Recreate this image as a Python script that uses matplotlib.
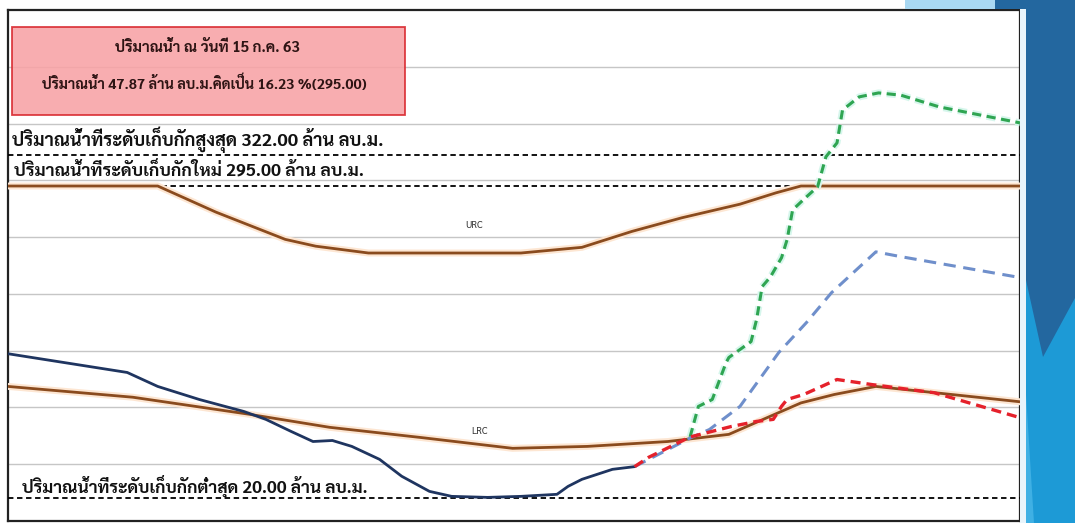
import matplotlib
matplotlib.use('Agg')
import matplotlib.pyplot as plt
import matplotlib.patheffects as pe
from matplotlib.patches import Rectangle, Polygon

# Sarabun has the Thai glyphs (and a bold weight)
plt.rcParams['font.family'] = ['Sarabun', 'DejaVu Sans']

# water volume (million m3) against day of the water year
urc_day = [0, 54, 75, 100, 111, 130, 185, 207, 225, 243, 264, 277, 286, 365]
urc_val = [295, 295, 272, 248, 242, 236, 236, 241, 255, 267, 279, 289, 295, 295]

lrc_day = [0, 45, 87, 116, 149, 182, 209, 238, 260, 278, 286, 298, 313, 365]
lrc_val = [118.5, 109, 94, 82.5, 73.5, 64, 65.7, 70, 76.3, 95.5, 104, 111.4, 118.5, 105]

obs_day = [0, 43, 54, 69, 85, 93, 102, 110, 117, 124, 134, 142, 152, 160, 173, 185, 198, 202, 207, 218, 226]
obs_val = [147.3, 130.8, 118.5, 107, 96.5, 89.5, 79, 70, 70.9, 65.7, 54.3, 39.4, 26.1, 21.7, 20.8, 21.7, 23.5, 30.5, 36.7, 45.5, 47.87]

red_day = [226, 231, 246, 261, 270, 276, 279, 281, 287, 299, 312, 334, 365]
red_val = [47.87, 56, 74, 83.3, 87.7, 89.5, 101, 107, 111.4, 124.6, 120, 113, 91]

blue_day = [226, 246, 253, 264, 278, 288, 297, 313, 322, 365]
blue_val = [47.87, 73, 80.6, 100.9, 148.4, 174.8, 201, 237, 232.8, 214.4]

green_day = [246, 249, 254, 259, 260, 268, 270, 272, 275, 279, 281, 283, 288, 292, 295, 299, 301, 307, 314, 322, 336, 365]
green_val = [74, 100.9, 107, 139.5, 144, 158, 177.5, 206.4, 215, 231.9, 247.8, 274, 285.5, 294.3, 320.7, 333, 362, 373.5, 377, 375, 364.6, 350.6]

levels = [322, 295, 20]
level_labels = ['ปริมาณน้ำที่ระดับเก็บกักสูงสุด 322.00 ล้าน ลบ.ม.',
                'ปริมาณน้ำที่ระดับเก็บกักใหม่ 295.00 ล้าน ลบ.ม.',
                'ปริมาณน้ำที่ระดับเก็บกักต่ำสุด 20.00 ล้าน ลบ.ม.']
box_lines = ['ปริมาณน้ำ ณ วันที่ 15 ก.ค. 63',
             'ปริมาณน้ำ 47.87 ล้าน ลบ.ม.คิดเป็น 16.23 %(295.00)']

fig = plt.figure(figsize=(10.75, 5.23), dpi=100)

# slide decoration on the right and top
def px(pts):
    return [(x / 1075, 1 - y / 523) for x, y in pts]

deco = [
    ([(905, 0), (995, 0), (995, 9), (905, 9)], '#A9D8F2'),
    ([(995, 0), (1075, 0), (1075, 523), (1022, 523), (1022, 9), (995, 9)], '#23679F'),
    ([(1022, 262), (1043, 357), (1075, 298), (1075, 523), (1022, 523)], '#1D9AD6'),
    ([(1022, 330), (1034, 523), (1022, 523)], '#3FB0E4'),
    ([(1020, 9), (1026, 9), (1026, 523), (1020, 523)], '#E8F4FB'),
]
for pts, c in deco:
    fig.patches.append(Polygon(px(pts), closed=True, transform=fig.transFigure,
                               facecolor=c, edgecolor='none', zorder=0))

ax = fig.add_axes([8 / 1075, 2 / 523, 1012 / 1075, 511 / 523])
ax.set_xlim(0, 365)
ax.set_ylim(0, 450)
ax.set_xticks([])
ax.set_yticks([])
for s in ax.spines.values():
    s.set_color('#222222')
    s.set_linewidth(1.6)

for g in range(50, 450, 50):
    ax.axhline(g, color='#C6C6C6', lw=1.0, zorder=1)

for lv in levels:
    ax.axhline(lv, color='black', lw=1.3, ls=(0, (3, 2)), zorder=3)

glow = [pe.Stroke(linewidth=5, foreground='#FDE6D2'), pe.Normal()]
ax.plot(urc_day, urc_val, color='#8A4B1E', lw=2.0, zorder=4, path_effects=glow)
ax.plot(lrc_day, lrc_val, color='#8A4B1E', lw=2.0, zorder=4, path_effects=glow)

ax.plot(obs_day, obs_val, color='#1F3560', lw=2.0, zorder=5)
ax.plot(green_day, green_val, color='#2FA552', lw=2.2, ls=(0, (3, 1.8)), zorder=6,
        path_effects=[pe.Stroke(linewidth=5, foreground='#D6F6EC'), pe.Normal()])
ax.plot(blue_day, blue_val, color='#6F8FCB', lw=2.2, ls=(0, (4, 2.5)), zorder=6)
ax.plot(red_day, red_val, color='#E5212B', lw=2.4, ls=(0, (3, 1.8)), zorder=7)

# current volume box
ax.add_patch(Rectangle((1.4, 357.7), 141.8, 77.3, facecolor='#F8A2A5', alpha=0.88,
                       edgecolor='#D8262C', lw=1.3, zorder=8))
ax.text(72, 416.6, box_lines[0], ha='center', va='center', fontsize=10.8,
        fontweight='bold', color='#2E1414', zorder=9)
ax.text(71, 385.8, box_lines[1], ha='center', va='center', fontsize=10.4,
        fontweight='bold', color='#2E1414', zorder=9)

ax.text(1.4, 335.7, level_labels[0], ha='left', va='center', fontsize=13.1,
        fontweight='bold', color='#111111', zorder=9)
ax.text(2.0, 309, level_labels[1], ha='left', va='center', fontsize=12.7,
        fontweight='bold', color='#111111', zorder=9)
ax.text(5.0, 30.5, level_labels[2], ha='left', va='center', fontsize=12.5,
        fontweight='bold', color='#111111', zorder=9)

ax.text(168, 260, 'URC', ha='center', va='center', fontsize=7, color='#333333', zorder=9)
ax.text(170, 79, 'LRC', ha='center', va='center', fontsize=7, color='#333333', zorder=9)

fig.savefig('out.png', dpi=100)
